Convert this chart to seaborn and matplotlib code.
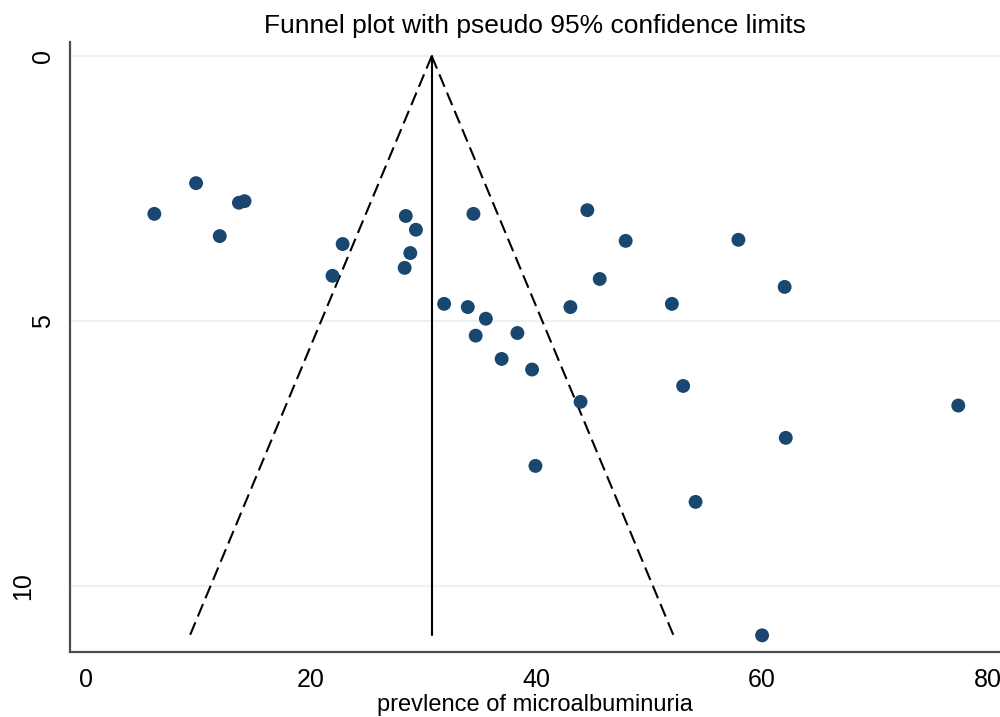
import matplotlib
import numpy as np
import pandas as pd
import seaborn as sns
from matplotlib.transforms import ScaledTranslation

matplotlib.use("Agg")
import matplotlib.pyplot as plt

# study estimates (prevalence, %) and their standard errors
prevalence = [6.1, 9.8, 13.6, 14.1, 11.9, 22.8, 21.9, 28.4, 29.3, 28.8, 28.3,
              34.4, 31.8, 33.9, 35.5, 34.6, 38.3, 36.9, 39.6, 44.5, 47.9, 45.6,
              43.0, 52.0, 57.9, 62.0, 53.0, 43.9, 39.9, 62.1, 54.1, 77.4, 60.0]
std_err = [2.98, 2.40, 2.77, 2.74, 3.40, 3.55, 4.15, 3.02, 3.28, 3.72, 4.00,
           2.98, 4.68, 4.74, 4.96, 5.28, 5.23, 5.72, 5.92, 2.91, 3.49, 4.21,
           4.74, 4.68, 3.47, 4.36, 6.23, 6.53, 7.74, 7.21, 8.42, 6.60, 10.94]
pooled = 30.7
y_ticks = [0, 5, 10]
x_ticks = [0, 20, 40, 60, 80]

df = pd.DataFrame({"prevalence": prevalence, "se": std_err})
se_max = max(std_err)

sns.set_style("white")
plt.rcParams["font.family"] = ["Liberation Sans", "DejaVu Sans"]
plt.rcParams["text.color"] = "black"
plt.rcParams["axes.labelcolor"] = "black"

fig = plt.figure(figsize=(10, 7.17), dpi=100)
ax = fig.add_axes([0.070, 0.091, 0.93, 0.850])

for t in y_ticks:
    ax.axhline(t, color="#eaf2f3", lw=1.6, zorder=0)

# pseudo 95% confidence limits, drawn outward from the apex
for sign in (-1, 1):
    ax.plot([pooled, pooled + sign * 1.96 * se_max], [0, se_max],
            color="black", lw=1.5, ls=(0, (6.5, 3)), zorder=2)
ax.plot([pooled, pooled], [0, se_max], color="black", lw=1.5, zorder=2)

sns.scatterplot(data=df, x="prevalence", y="se", ax=ax, color="#1a476f",
                s=100, edgecolor="none", zorder=3, legend=False)

ax.set_xlim(-1.38, 81.1)
ax.set_ylim(11.25, -0.26)
ax.set_xticks(x_ticks)
ax.set_yticks(y_ticks)
ax.set_yticklabels([str(t) for t in y_ticks], rotation=90, va="center")
ax.tick_params(axis="both", direction="out", length=8, width=1.3,
               color="#333333", labelsize=18, labelcolor="black")
ax.tick_params(axis="x", pad=4)
ax.tick_params(axis="y", pad=3)

# Stata places wider rotated labels further from the axis
for lab in ax.get_yticklabels():
    extra = len(lab.get_text()) - 1
    if extra:
        lab.set_transform(lab.get_transform() +
                          ScaledTranslation(-0.2 * extra, 0, fig.dpi_scale_trans))

for side in ["top", "right"]:
    ax.spines[side].set_visible(False)
for side in ["left", "bottom"]:
    ax.spines[side].set_color("#4d4d4d")
    ax.spines[side].set_linewidth(1.6)

ax.set_xlabel("prevlence of microalbuminuria", fontsize=17, labelpad=1)
ax.set_ylabel("")
ax.set_title("Funnel plot with pseudo 95% confidence limits", fontsize=19,
             pad=7, color="black")

fig.savefig("out.png", dpi=100)
